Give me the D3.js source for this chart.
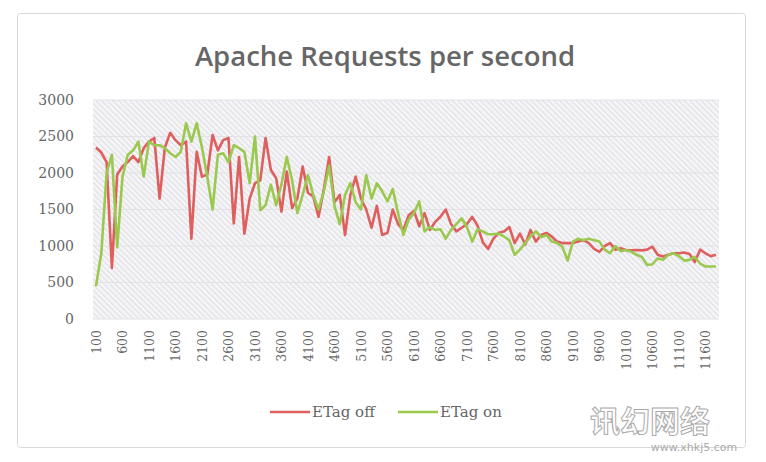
<!DOCTYPE html>
<html><head><meta charset="utf-8">
<script src="https://cdn.jsdelivr.net/npm/d3@7"></script>
<style>body{margin:0;background:#fff}svg{display:block}</style>
</head><body>
<script>
const categories = d3.range(100, 11900, 100);
const etagOff = [2350,2280,2150,700,1980,2090,2150,2230,2150,2340,2430,2480,1650,2350,2550,2450,2380,2430,1100,2290,
1950,1980,2520,2310,2450,2480,1310,2220,1170,1650,1860,1900,2480,2040,1930,1470,2020,1520,1650,2090,
1730,1680,1400,1780,2220,1600,1700,1150,1700,1950,1650,1500,1250,1550,1150,1180,1500,1300,1220,1420,
1480,1270,1450,1220,1330,1400,1500,1300,1200,1250,1300,1400,1280,1050,960,1100,1180,1200,1260,1040,
1170,1020,1220,1060,1150,1180,1130,1060,1040,1040,1040,1060,1080,1040,960,920,1000,1040,950,970,
945,940,945,940,950,990,880,855,880,900,900,910,890,780,950,900,860,880];
const etagOn = [450,900,2000,2250,980,1950,2250,2310,2430,1950,2430,2380,2380,2340,2270,2220,2290,2680,2430,2680,
2350,1950,1500,2250,2270,2150,2380,2340,2290,1860,2500,1490,1560,1840,1560,1850,2220,1900,1450,1700,
1970,1700,1500,1750,2100,1550,1300,1700,1860,1600,1500,1970,1650,1860,1750,1610,1780,1450,1150,1360,
1450,1610,1200,1260,1220,1230,1100,1220,1300,1380,1260,1060,1230,1200,1160,1160,1170,1130,1080,880,
950,1040,1130,1200,1120,1150,1060,1040,990,800,1060,1100,1080,1100,1080,1060,950,900,1000,930,
945,920,880,850,740,750,830,810,880,900,860,800,810,850,760,720,720,720];
const yTicks = [0,500,1000,1500,2000,2500,3000];
const xTickLabels = categories.filter((d,i)=> i % 5 === 0);
const seriesNames = ["ETag off","ETag on"];
const seriesColors = ["#df5f5f","#9bc84e"];

const W=766,H=462;
const svg=d3.select("body").append("svg").attr("width",W).attr("height",H);
const defs=svg.append("defs");
const pat=defs.append("pattern").attr("id","hatch").attr("patternUnits","userSpaceOnUse")
  .attr("width",4).attr("height",4).attr("patternTransform","rotate(-45)");
pat.append("rect").attr("width",4).attr("height",4).attr("fill","#f6f6f8");
pat.append("rect").attr("width",1.3).attr("height",4).attr("fill","#e0e0e5");

svg.append("rect").attr("x",17.5).attr("y",13.5).attr("width",728).attr("height",434).attr("rx",3)
  .attr("fill","#fff").attr("stroke","#d9d9d9");

svg.append("text").attr("x",385).attr("y",66).attr("text-anchor","middle")
  .attr("font-family","'Open Sans'").attr("font-weight",600).attr("font-size",27.5)
  .attr("fill","#666").text("Apache Requests per second");

const px0=93,px1=719,py0=100,py1=319;
const x=d3.scalePoint().domain(categories).range([96,716]);
const y=d3.scaleLinear().domain([0,3000]).range([py1,py0]);

svg.append("rect").attr("x",px0).attr("y",py0).attr("width",px1-px0).attr("height",py1-py0).attr("fill","url(#hatch)");
svg.append("g").selectAll("line").data(yTicks).join("line")
  .attr("x1",px0).attr("x2",px1).attr("y1",d=>y(d)).attr("y2",d=>y(d))
  .attr("stroke","#e2e2e6").attr("stroke-width",1);

const yAxis=svg.append("g").attr("transform",`translate(${px0-16},0)`)
  .call(d3.axisLeft(y).tickValues(yTicks).tickSize(0).tickFormat(d3.format("d")));
yAxis.select(".domain").remove();
yAxis.selectAll("text").attr("font-family","'DejaVu Serif'").attr("font-size",14).attr("fill","#666").attr("dx",0);

const xAxis=svg.append("g").attr("transform",`translate(0,${py1+11})`)
  .call(d3.axisBottom(x).tickValues(xTickLabels).tickSize(0));
xAxis.select(".domain").remove();
xAxis.selectAll("text").attr("font-family","'DejaVu Serif'").attr("font-size",12.5).attr("fill","#666")
  .attr("text-anchor","end").attr("transform","rotate(-90)").attr("dy","0.35em").attr("dx",0).attr("x",0).attr("y",0);

const line=d3.line().x((d,i)=>x(categories[i])).y(d=>y(d));
[etagOff,etagOn].forEach((s,k)=>{
  svg.append("path").datum(s).attr("d",line).attr("fill","none")
    .attr("stroke",seriesColors[k]).attr("stroke-width",2.6).attr("stroke-linejoin","round");
});

const legX=[270,398];
seriesNames.forEach((n,k)=>{
  svg.append("line").attr("x1",legX[k]).attr("x2",legX[k]+40).attr("y1",412).attr("y2",412)
    .attr("stroke",seriesColors[k]).attr("stroke-width",2.6);
  svg.append("text").attr("x",legX[k]+42).attr("y",417).attr("font-family","'DejaVu Serif'")
    .attr("font-size",15).attr("fill","#666").text(n);
});

svg.append("text").attr("x",650).attr("y",432).attr("text-anchor","middle").attr("font-family","'Noto Sans CJK SC'")
  .attr("font-size",30).attr("font-weight",700).attr("fill","#fff").attr("stroke","#aaa").attr("stroke-width",1).text("讯幻网络");
svg.append("text").attr("x",694).attr("y",451).attr("text-anchor","middle").attr("font-family","'DejaVu Sans'")
  .attr("font-size",11).attr("fill","#aaa").text("www.xhkj5.com");
</script>
</body></html>
